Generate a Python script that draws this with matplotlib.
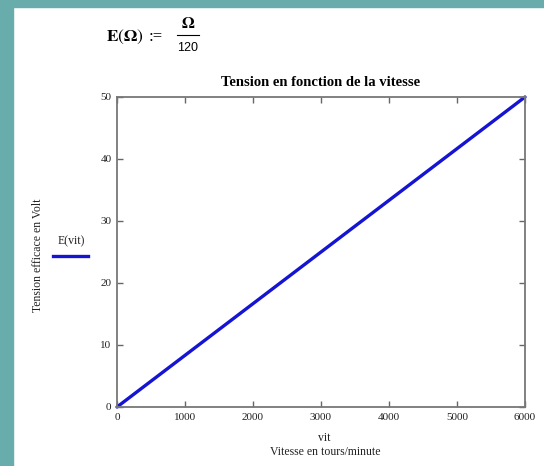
import matplotlib
matplotlib.use('Agg')
import matplotlib.pyplot as plt
from matplotlib.patches import Rectangle

# data
vit = [0, 6000]
tension = [0, 50]
x_ticks = [0, 1000, 2000, 3000, 4000, 5000, 6000]
y_ticks = [0, 10, 20, 30, 40, 50]

plt.rcParams['font.family'] = ['Liberation Serif', 'DejaVu Serif']
plt.rcParams['mathtext.fontset'] = 'stix'

W, H = 544, 466
fig = plt.figure(figsize=(W / 100, H / 100), dpi=100)
fig.patch.set_facecolor('white')


def fx(px):
    return px / W


def fy(py):
    return 1 - py / H


# teal frame on left and top
teal = '#68acac'
fig.add_artist(Rectangle((0, 0), fx(13), 1, transform=fig.transFigure, color=teal, zorder=0))
fig.add_artist(Rectangle((0, fy(7)), 1, 7 / H, transform=fig.transFigure, color=teal, zorder=0))

ax = fig.add_axes([fx(117), fy(407), (525 - 117) / W, (407 - 97) / H])
ax.plot(vit, tension, color='#1414d2', lw=2.4, solid_capstyle='round', clip_on=False)
ax.set_xlim(0, 6000)
ax.set_ylim(0, 50)
ax.set_xticks(x_ticks)
ax.set_yticks(y_ticks)
ax.tick_params(direction='in', length=4, width=1, colors='#666666', labelcolor='#222222',
               labelsize=8, top=True, right=True, pad=4)
for s in ax.spines.values():
    s.set_color('#777777')
    s.set_linewidth(1.3)

ax.set_title('Tension en fonction de la vitesse', fontsize=10.5, fontweight='bold', pad=8)

# axis labels
fig.text(fx(324), fy(438), 'vit', fontsize=8.5, ha='center', va='center', color='#222222')
fig.text(fx(325), fy(452), 'Vitesse en tours/minute', fontsize=8.5, ha='center', va='center',
         color='#222222')
fig.text(fx(38), fy(255), 'Tension efficace en Volt', rotation=90, fontsize=8.5,
         ha='center', va='center', color='#222222')

# legend
fig.text(fx(71), fy(241), 'E(vit)', fontsize=8.5, ha='center', va='center', color='#222222')
fig.add_artist(plt.Line2D([fx(53), fx(88)], [fy(256), fy(256)], color='#1414d2',
                          lw=2.4, transform=fig.transFigure))

# definition of the function
fig.text(fx(106), fy(37), r'$\mathbf{E}\left(\mathbf{\Omega}\right)$', fontsize=12.5,
         ha='left', va='center')
fig.text(fx(149), fy(37), ':=', fontsize=12, ha='left', va='center')
fig.text(fx(188), fy(24), r'$\mathbf{\Omega}$', fontsize=12, ha='center', va='center')
fig.add_artist(plt.Line2D([fx(177), fx(199)], [fy(35), fy(35)], color='black', lw=0.8,
                          transform=fig.transFigure))
fig.text(fx(188), fy(48), '120', fontsize=9, ha='center', va='center', family='Liberation Sans')

fig.savefig('out.png', dpi=100)
